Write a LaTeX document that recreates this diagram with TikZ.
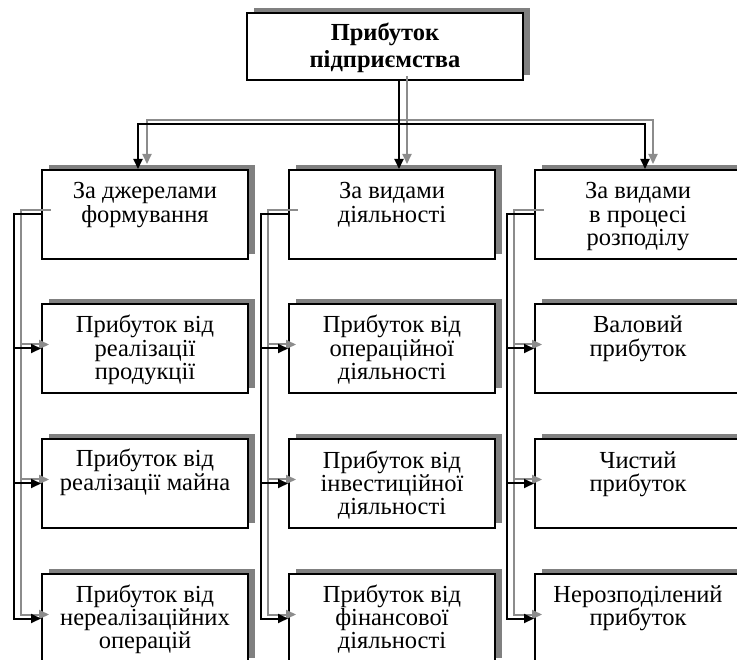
\documentclass[tikz,border=0pt]{standalone}
\usepackage{fontspec}
\setmainfont{Liberation Serif}
\usetikzlibrary{arrows.meta,shadows,calc}
\definecolor{shd}{gray}{0.5}
\definecolor{gln}{gray}{0.55}
\begin{document}
\begin{tikzpicture}[x=1pt,y=-1pt,
  box/.style={draw=black, line width=2pt, fill=white, minimum width=206pt, minimum height=89pt, inner sep=0pt,
    general shadow={fill=shd, shadow xshift=7pt, shadow yshift=5pt}},
  topbox/.style={box, minimum width=276pt, minimum height=67pt},
  txt/.style={anchor=base, inner sep=0pt, font=\fontsize{24.5}{23.3}\selectfont},
  toptxt/.style={anchor=base, inner sep=0pt, font=\bfseries\fontsize{24.5}{27}\selectfont},
  blk/.style={draw=black, line width=2pt, line cap=rect, -{Triangle[length=10pt,width=9pt]}},
  gry/.style={draw=gln, line width=2pt, line cap=rect, -{Triangle[length=10pt,width=9pt]}}]
\clip (0,0) rectangle (737,660);
\useasboundingbox (0,0) rectangle (737,660);

% boxes
\node[topbox] (T) at (385,46.5) {};
\node[toptxt] (Tt) at (385,41) {\parbox[t]{260pt}{\centering Прибуток\\підприємства}};

\node[box] (L1) at (145,214.5) {};
\node[box] (L2) at (145,348.5) {};
\node[box] (L3) at (145,483.5) {};
\node[box] (L4) at (145,618.5) {};
\node[box] (M1) at (392,214.5) {};
\node[box] (M2) at (392,348.5) {};
\node[box] (M3) at (392,483.5) {};
\node[box] (M4) at (392,618.5) {};
\node[box] (R1) at (638,214.5) {};
\node[box] (R2) at (638,348.5) {};
\node[box] (R3) at (638,483.5) {};
\node[box] (R4) at (638,618.5) {};

\node[txt] (L1t) at ($(L1.north)+(0,30)$) {\parbox[t]{200pt}{\centering За джерелами\\формування}};
\node[txt] (L2t) at ($(L2.north)+(0,30)$) {\parbox[t]{200pt}{\centering Прибуток від\\реалізації\\продукції}};
\node[txt] (L3t) at ($(L3.north)+(0,29)$) {\parbox[t]{200pt}{\centering Прибуток від\\реалізації майна}};
\node[txt] (L4t) at ($(L4.north)+(0,29)$) {\parbox[t]{200pt}{\centering Прибуток від\\нереалізаційних\\операцій}};
\node[txt] (M1t) at ($(M1.north)+(0,30)$) {\parbox[t]{200pt}{\centering За видами\\діяльності}};
\node[txt] (M2t) at ($(M2.north)+(0,30)$) {\parbox[t]{200pt}{\centering Прибуток від\\операційної\\діяльності}};
\node[txt] (M3t) at ($(M3.north)+(0,30)$) {\parbox[t]{200pt}{\centering Прибуток від\\інвестиційної\\діяльності}};
\node[txt] (M4t) at ($(M4.north)+(0,29)$) {\parbox[t]{200pt}{\centering Прибуток від\\фінансової\\діяльності}};
\node[txt] (R1t) at ($(R1.north)+(0,30)$) {\parbox[t]{200pt}{\centering За видами\\в процесі\\розподілу}};
\node[txt] (R2t) at ($(R2.north)+(0,30)$) {\parbox[t]{200pt}{\centering Валовий\\прибуток}};
\node[txt] (R3t) at ($(R3.north)+(0,30)$) {\parbox[t]{200pt}{\centering Чистий\\прибуток}};
\node[txt] (R4t) at ($(R4.north)+(0,29)$) {\parbox[t]{200pt}{\centering Нерозподілений\\прибуток}};

% grey connectors (offset copies)
\draw[gry] ($(T.south)+(22,-4)$) -- ($(M1.north)+(15,-5)$);
\draw[gry] ($(R1.north)+(15,-49)$) -| ($(L1.north)+(2,-5)$);
\draw[gry] ($(R1.north)+(15,-49)$) -- ($(R1.north)+(15,-5)$);
\foreach \c in {L,M,R}{
  \draw[gry] ($(\c1.west)+(9,-4)$) -- ($(\c1.west)+(-20,-4)$) |- ($(\c4.west)+(8,-4)$);
  \draw[gry] ($(\c1.west)+(-20,-4)$) |- ($(\c2.west)+(8,-4)$);
  \draw[gry] ($(\c1.west)+(-20,-4)$) |- ($(\c3.west)+(8,-4)$);
}

% black connectors
\draw[blk] (T.south -| M1.north) ++(7,0) coordinate (ts) (ts) -- ($(M1.north)+(7,0)$);
\draw[blk] ($(R1.north)+(7,-45)$) -| ($(L1.north)+(-7,0)$);
\draw[blk] ($(R1.north)+(7,-45)$) -- ($(R1.north)+(7,0)$);
\foreach \c in {L,M,R}{
  \draw[blk] (\c1.west) -- ($(\c1.west)+(-27,0)$) |- (\c4.west);
  \draw[blk] ($(\c1.west)+(-27,0)$) |- (\c2.west);
  \draw[blk] ($(\c1.west)+(-27,0)$) |- (\c3.west);
}
\end{tikzpicture}
\end{document}
